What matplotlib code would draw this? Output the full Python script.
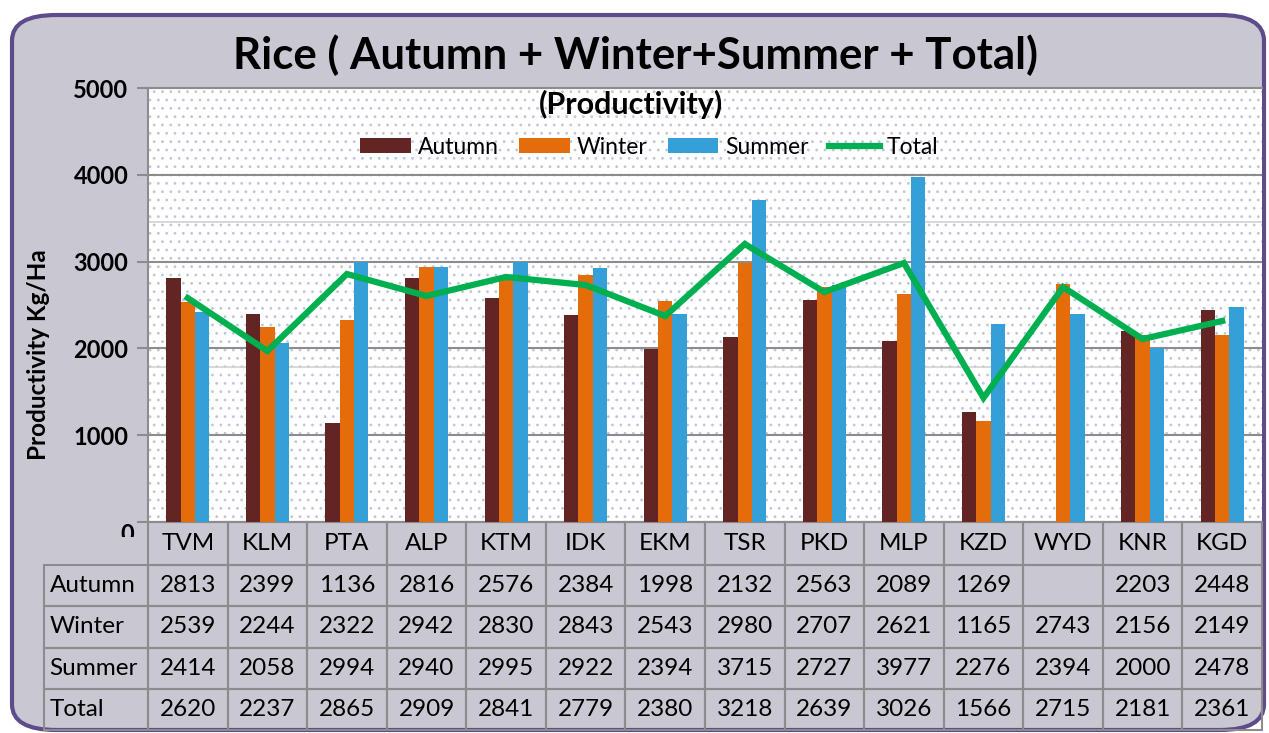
import numpy as np
import matplotlib
matplotlib.use("Agg")
import matplotlib.pyplot as plt
from matplotlib.patches import FancyBboxPatch, Rectangle
from matplotlib.transforms import Bbox, TransformedBbox, blended_transform_factory, offset_copy

plt.rcParams['font.family'] = ['Lato', 'DejaVu Sans']
plt.rcParams['hatch.color'] = '#c0c6dd'
plt.rcParams['hatch.linewidth'] = 0.8

districts = ['TVM', 'KLM', 'PTA', 'ALP', 'KTM', 'IDK', 'EKM', 'TSR', 'PKD', 'MLP', 'KZD', 'WYD', 'KNR', 'KGD']
autumn = [2813, 2399, 1136, 2816, 2576, 2384, 1998, 2132, 2563, 2089, 1269, np.nan, 2203, 2448]
winter = [2539, 2244, 2322, 2942, 2830, 2843, 2543, 2980, 2707, 2621, 1165, 2743, 2156, 2149]
summer = [2414, 2058, 2994, 2940, 2995, 2922, 2394, 3715, 2727, 3977, 2276, 2394, 2000, 2478]
total_table = [2620, 2237, 2865, 2909, 2841, 2779, 2380, 3218, 2639, 3026, 1566, 2715, 2181, 2361]
# the plotted Total line as drawn in the chart
total_line = [2580, 1970, 2857, 2604, 2823, 2730, 2373, 3203, 2650, 2984, 1430, 2707, 2108, 2316]

c_aut, c_win, c_sum, c_tot = '#632523', '#e46c0a', '#34a0d7', '#00b050'

fig = plt.figure(figsize=(12.69, 7.33), dpi=100)
fig.patch.set_facecolor('white')

# background frame
frame = FancyBboxPatch((12/1269, 3/733), 1252/1269, 715/733,
                       boxstyle="round,pad=0,rounding_size=0.035",
                       transform=fig.transFigure, facecolor='#c9c7d1',
                       edgecolor='#5e4b8b', linewidth=3, zorder=-5)
fig.patches.append(frame)

ax = fig.add_axes([148/1269, 1 - 522/733, 1114/1269, 434/733])
ax.set_facecolor('white')
ax.patch.set_hatch('..')
ax.patch.set_edgecolor('#c0c6dd')

x = np.arange(len(districts))
w = 0.18
b1 = ax.bar(x - w, autumn, w, color=c_aut, label='Autumn', zorder=3)
b2 = ax.bar(x, winter, w, color=c_win, label='Winter', zorder=3)
b3 = ax.bar(x + w, summer, w, color=c_sum, label='Summer', zorder=3)
ln, = ax.plot(x, total_line, color=c_tot, lw=4.5, label='Total', zorder=4, solid_joinstyle='miter')

ax.set_xlim(-0.5, len(districts) - 0.5)
ax.set_ylim(0, 5000)
ax.set_yticks([0, 1000, 2000, 3000, 4000, 5000])
ax.set_yticklabels(['', '1000', '2000', '3000', '4000', '5000'], fontsize=17, fontweight='bold')
ax.set_xticks([])
ax.tick_params(axis='y', length=8, width=1.5, color='#8c8c8c', pad=6)
ax.grid(axis='y', color='#8c8c8c', lw=1.5, zorder=1)
for yy in [3460, 1780]:
    ax.axhline(yy, color='#d2d2d2', lw=1.2, zorder=1)
for s in ax.spines.values():
    s.set_color('#8c8c8c')
    s.set_linewidth(1.5)
ax.spines['right'].set_visible(False)

# zero label, partly hidden under the table header
zt = ax.text(-0.5 - 14/79.6, 0, '0', transform=offset_copy(ax.transData, fig, y=-13, units='dots'),
             ha='right', va='center', fontsize=17, fontweight='bold')
zt.set_clip_box(TransformedBbox(Bbox.from_extents(0, 1 - 537/733, 1, 1), fig.transFigure))
zt.set_clip_on(True)

ax.set_ylabel('Productivity Kg/Ha', fontsize=17.5, fontweight='bold')
ax.yaxis.set_label_coords(-0.088, 0.385)

ax.text(0.434, 0.961, '(Productivity)', transform=ax.transAxes, ha='center', va='center',
        fontsize=22, fontweight='bold')
fig.text(0.501, 0.925, 'Rice ( Autumn + Winter+Summer + Total)', ha='center', va='center',
         fontsize=31.5, fontweight='bold')

ax.legend([b1, b2, b3, ln], ['Autumn', 'Winter', 'Summer', 'Total'],
          loc='center', bbox_to_anchor=(0.45, 0.864), ncol=4, frameon=False,
          fontsize=16.5, handlelength=2.2, handleheight=0.6, columnspacing=0.9, handletextpad=0.3)

# data table below the axis
tr = blended_transform_factory(ax.transData, ax.transAxes)
ax_h = 434.0
row_edges = [0, -43/ax_h, -(43 + 41.25)/ax_h, -(43 + 82.5)/ax_h, -(43 + 123.75)/ax_h, -208/ax_h]
left_edge = -0.5 - 104/79.6
edge = '#8c8c8c'
fs = 17.5
rows = [('Autumn', autumn), ('Winter', winter), ('Summer', summer), ('Total', total_table)]

for i, d in enumerate(districts):
    y0, y1 = row_edges[1], row_edges[0]
    ax.add_patch(Rectangle((i - 0.5, y0), 1, y1 - y0, transform=tr, fill=False,
                           edgecolor=edge, lw=1.5, clip_on=False))
    ax.text(i, (y0 + y1) / 2, d, transform=tr, ha='center', va='center', fontsize=fs, clip_on=False)

for r, (name, vals) in enumerate(rows):
    y1, y0 = row_edges[r + 1], row_edges[r + 2]
    ax.add_patch(Rectangle((left_edge, y0), -0.5 - left_edge, y1 - y0, transform=tr, fill=False,
                           edgecolor=edge, lw=1.5, clip_on=False))
    ax.text(left_edge + 0.07, (y0 + y1) / 2, name, transform=tr, ha='left', va='center',
            fontsize=fs, clip_on=False)
    for i, v in enumerate(vals):
        ax.add_patch(Rectangle((i - 0.5, y0), 1, y1 - y0, transform=tr, fill=False,
                               edgecolor=edge, lw=1.5, clip_on=False))
        if not np.isnan(v):
            ax.text(i, (y0 + y1) / 2, f'{int(v)}', transform=tr, ha='center', va='center',
                    fontsize=fs, clip_on=False)

fig.savefig('out.png', dpi=100)
